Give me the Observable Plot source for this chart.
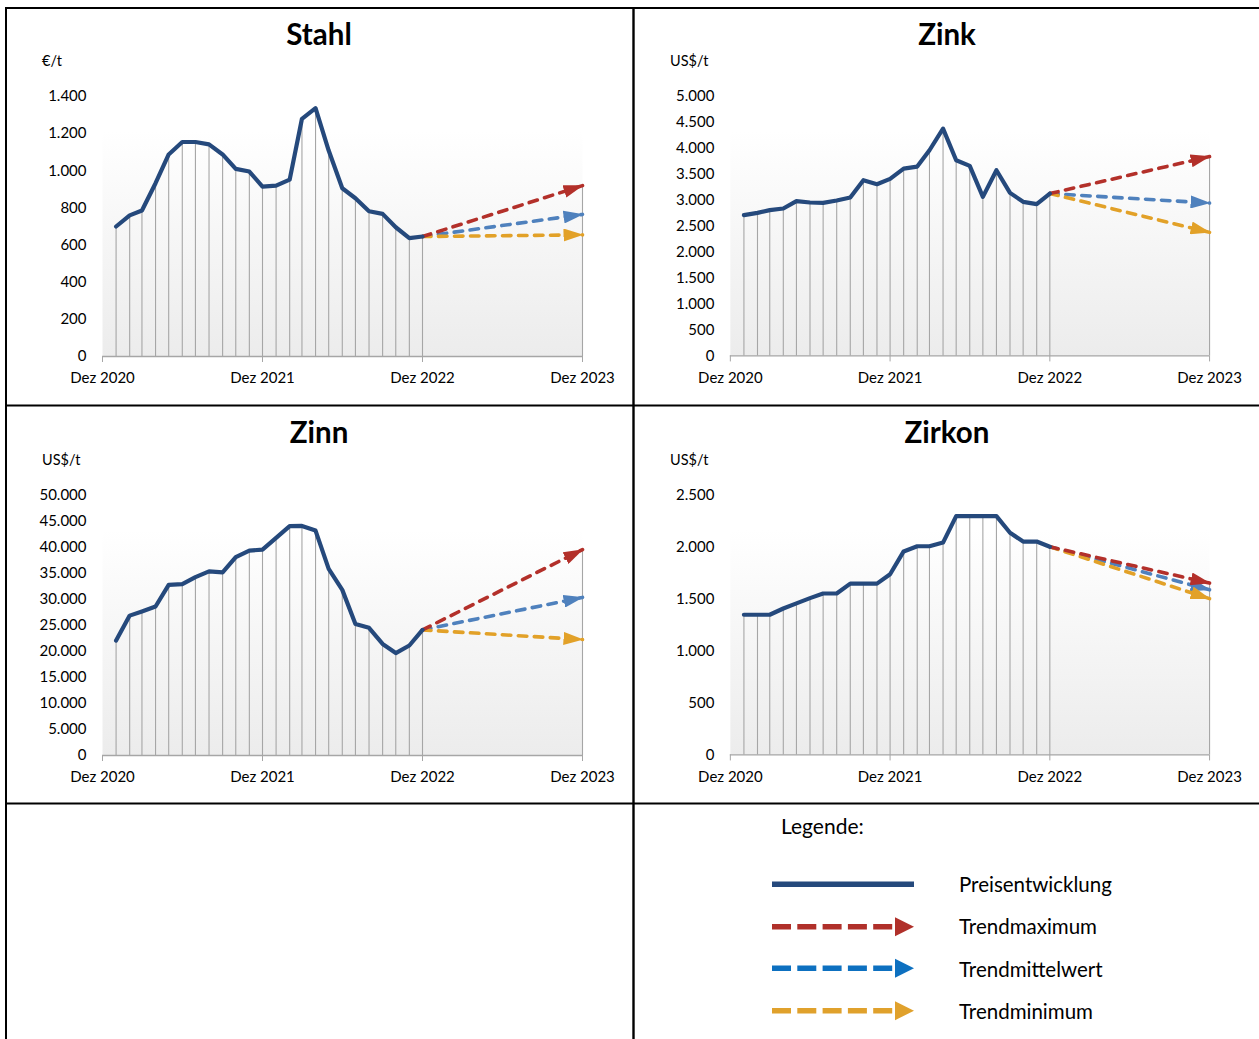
<!DOCTYPE html>
<html>
<head>
<meta charset="utf-8">
<script src="https://cdn.jsdelivr.net/npm/d3@7"></script>
<script src="https://cdn.jsdelivr.net/npm/@observablehq/plot@0.6"></script>
<style>
  html, body { margin: 0; padding: 0; background: #ffffff; }
  #page { position: relative; width: 1259px; height: 1039px; overflow: hidden; font-family: Lato, "Open Sans", sans-serif; }
  .panel { position: absolute; }
  .panel svg { overflow: visible; }
  #overlay { position: absolute; left: 0; top: 0; pointer-events: none; }
</style>
</head>
<body>
<div id="page"></div>
<script>
// ---------- data ----------
const months = [
  "2021-01","2021-02","2021-03","2021-04","2021-05","2021-06",
  "2021-07","2021-08","2021-09","2021-10","2021-11","2021-12",
  "2022-01","2022-02","2022-03","2022-04","2022-05","2022-06",
  "2022-07","2022-08","2022-09","2022-10","2022-11","2022-12"
];
const xTickDates = ["2020-12", "2021-12", "2022-12", "2023-12"];
const xTickLabels = ["Dez 2020", "Dez 2021", "Dez 2022", "Dez 2023"];

const stahlValues = [700, 760, 786, 933, 1088, 1155, 1155, 1142, 1088, 1010, 996, 915,
                     920, 952, 1280, 1337, 1109, 906, 852, 782, 768, 696, 637, 646];
const stahlTrend = [920, 765, 655];          // max, mittel, min at Dez 2023
const stahlTicks = [0, 200, 400, 600, 800, 1000, 1200, 1400];

const zinkValues = [2712, 2756, 2808, 2840, 2981, 2955, 2949, 2994, 3051, 3385, 3308, 3410,
                    3609, 3647, 3962, 4378, 3769, 3660, 3064, 3577, 3141, 2968, 2923, 3128];
const zinkTrend = [3840, 2945, 2380];
const zinkTicks = [0, 500, 1000, 1500, 2000, 2500, 3000, 3500, 4000, 4500, 5000];

const zinnValues = [22100, 26900, 27700, 28650, 32800, 32950, 34300, 35400, 35200, 38150, 39400, 39600,
                    41850, 44100, 44150, 43250, 35900, 31850, 25300, 24550, 21450, 19700, 21150, 24150];
const zinnTrend = [39600, 30400, 22300];
const zinnTicks = [0, 5000, 10000, 15000, 20000, 25000, 30000, 35000, 40000, 45000, 50000];

const zirkonValues = [1350, 1350, 1350, 1410, 1460, 1510, 1555, 1555, 1650, 1650, 1650, 1740,
                      1960, 2010, 2010, 2045, 2300, 2300, 2300, 2300, 2140, 2055, 2055, 2005];
const zirkonTrend = [1655, 1590, 1505];
const zirkonTicks = [0, 500, 1000, 1500, 2000, 2500];

const titles = ["Stahl", "Zink", "Zinn", "Zirkon"];
const units = ["€/t", "US$/t", "US$/t", "US$/t"];
const legendLabels = ["Preisentwicklung", "Trendmaximum", "Trendmittelwert", "Trendminimum"];

// ---------- styles ----------
const COL_MAIN = "#25497c";
const COL_MAX = "#b3302a";
const COL_MID = "#4f81bd";
const COL_MIN = "#e2a128";
const COL_GRID = "#a6a6a6";

const parse = d3.utcParse("%Y-%m");
const loc = d3.formatLocale({decimal: ",", thousands: ".", grouping: [3], currency: ["", ""]});
const fmt = loc.format(",d");
const tickDates = xTickDates.map(parse);

const page = document.getElementById("page");

function panel(values, trend, yTicks, left, top, mt, mb) {
  const data = months.map((m, i) => ({date: parse(m), value: values[i]}));
  const last = data[data.length - 1];
  const endDate = tickDates[tickDates.length - 1];
  const seg = v => [{date: last.date, value: last.value}, {date: endDate, value: v}];
  const yMax = yTicks[yTicks.length - 1];
  const dashed = {x: "date", y: "value", strokeWidth: 3.6, strokeDasharray: "8.5,7.5", strokeLinecap: "round"};
  const svg = Plot.plot({
    width: 626, height: 392,
    marginLeft: 96, marginRight: 50, marginTop: mt, marginBottom: mb,
    style: {background: "transparent", fontFamily: "Lato, 'Open Sans', sans-serif", fontSize: "15px", color: "#000"},
    x: {type: "utc", domain: [tickDates[0], endDate], label: null},
    y: {domain: [0, yMax], label: null},
    marks: [
      Plot.frame({fill: "url(#plotGrad)", stroke: "none", insetTop: 34}),
      Plot.ruleX(data, {x: "date", y1: 0, y2: "value", stroke: COL_GRID, strokeWidth: 1.1}),
      Plot.ruleX([{date: endDate, value: trend[0]}], {x: "date", y1: 0, y2: "value", stroke: COL_GRID, strokeWidth: 1.1}),
      Plot.ruleY([0], {stroke: COL_GRID, strokeWidth: 1.3}),
      Plot.axisX({ticks: tickDates, tickFormat: d => xTickLabels[tickDates.findIndex(t => +t === +d)],
                  tickSize: 6, tickPadding: 10, stroke: COL_GRID, fill: "#000", fontSize: 15, label: null}),
      Plot.axisY({ticks: yTicks, tickFormat: fmt, tickSize: 0, tickPadding: 16, fill: "#000", fontSize: 15, label: null}),
      Plot.line(seg(trend[1]), {...dashed, stroke: COL_MID}),
      Plot.line(seg(trend[2]), {...dashed, stroke: COL_MIN}),
      Plot.line(seg(trend[0]), {...dashed, stroke: COL_MAX}),
      Plot.line(data, {x: "date", y: "value", stroke: COL_MAIN, strokeWidth: 4.2, strokeLinejoin: "round", strokeLinecap: "round"})
    ]
  });
  // attach filled arrow heads to the trend lines
  const markerFor = {[COL_MAX]: "arrMax", [COL_MID]: "arrMid", [COL_MIN]: "arrMin"};
  for (const [c, id] of Object.entries(markerFor)) {
    svg.querySelectorAll(`g[stroke="${c}"] path, path[stroke="${c}"]`).forEach(p => p.setAttribute("marker-end", `url(#${id})`));
  }
  const wrap = document.createElement("div");
  wrap.className = "panel";
  wrap.style.left = left + "px";
  wrap.style.top = top + "px";
  wrap.appendChild(svg);
  page.appendChild(wrap);
}

panel(stahlValues, stahlTrend, stahlTicks, 6, 8, 88, 44);
panel(zinkValues, zinkTrend, zinkTicks, 634, 8, 88, 44);
panel(zinnValues, zinnTrend, zinnTicks, 6, 406, 89, 43);
panel(zirkonValues, zirkonTrend, zirkonTicks, 634, 406, 89, 43);

// ---------- overlay: borders, titles, units, legend ----------
const titlePos = [[319, 45], [947, 45], [319, 443], [947, 443]];
const unitPos = [[42, 66], [670, 66], [42, 465], [670, 465]];
const legendColors = [COL_MAIN, "#b0302a", "#0d70c0", "#e0a12c"];
const legendY = [884.3, 926.7, 968.3, 1010.7];
const legendTextY = [892, 934, 976.5, 1018.5];

let o = `<svg id="overlay" width="1259" height="1039" xmlns="http://www.w3.org/2000/svg">
<defs>
  <linearGradient id="plotGrad" x1="0" y1="0" x2="0" y2="1">
    <stop offset="0" stop-color="#ffffff"/>
    <stop offset="1" stop-color="#ececec"/>
  </linearGradient>
  <marker id="arrMax" markerUnits="userSpaceOnUse" markerWidth="20" markerHeight="13" viewBox="0 0 20 13" refX="19" refY="6.5" orient="auto"><path d="M0,0L20,6.5L0,13Z" fill="${COL_MAX}" stroke="none"/></marker>
  <marker id="arrMid" markerUnits="userSpaceOnUse" markerWidth="20" markerHeight="13" viewBox="0 0 20 13" refX="19" refY="6.5" orient="auto"><path d="M0,0L20,6.5L0,13Z" fill="${COL_MID}" stroke="none"/></marker>
  <marker id="arrMin" markerUnits="userSpaceOnUse" markerWidth="20" markerHeight="13" viewBox="0 0 20 13" refX="19" refY="6.5" orient="auto"><path d="M0,0L20,6.5L0,13Z" fill="${COL_MIN}" stroke="none"/></marker>
</defs>
<g stroke="#000" stroke-width="2" fill="none">
  <line x1="5" y1="8" x2="1259" y2="8"/>
  <line x1="6" y1="7" x2="6" y2="1039"/>
  <line x1="633.5" y1="7" x2="633.5" y2="1039" stroke-width="2.4"/>
  <line x1="5" y1="405.5" x2="1259" y2="405.5"/>
  <line x1="5" y1="803.5" x2="1259" y2="803.5"/>
</g>
<g font-family="Lato, 'Open Sans', sans-serif" fill="#000">`;
titles.forEach((t, i) => {
  o += `<text x="${titlePos[i][0]}" y="${titlePos[i][1]}" text-anchor="middle" font-size="29.5" font-weight="bold">${t}</text>`;
});
units.forEach((u, i) => {
  o += `<text x="${unitPos[i][0]}" y="${unitPos[i][1]}" font-size="14.5">${u}</text>`;
});
o += `<text x="781" y="834" font-size="21">Legende:</text>`;
legendLabels.forEach((l, i) => {
  o += `<text x="959" y="${legendTextY[i]}" font-size="20.5">${l}</text>`;
});
o += `</g>`;
// legend symbols
o += `<line x1="772" y1="${legendY[0]}" x2="914" y2="${legendY[0]}" stroke="${legendColors[0]}" stroke-width="5.5"/>`;
for (let i = 1; i < 4; i++) {
  const y = legendY[i];
  o += `<line x1="772" y1="${y}" x2="893" y2="${y}" stroke="${legendColors[i]}" stroke-width="5.5" stroke-dasharray="19,6.3"/>`;
  o += `<path d="M895,${y - 9.5}L914,${y}L895,${y + 9.5}Z" fill="${legendColors[i]}"/>`;
}
o += `</svg>`;
page.insertAdjacentHTML("beforeend", o);
</script>
</body>
</html>
